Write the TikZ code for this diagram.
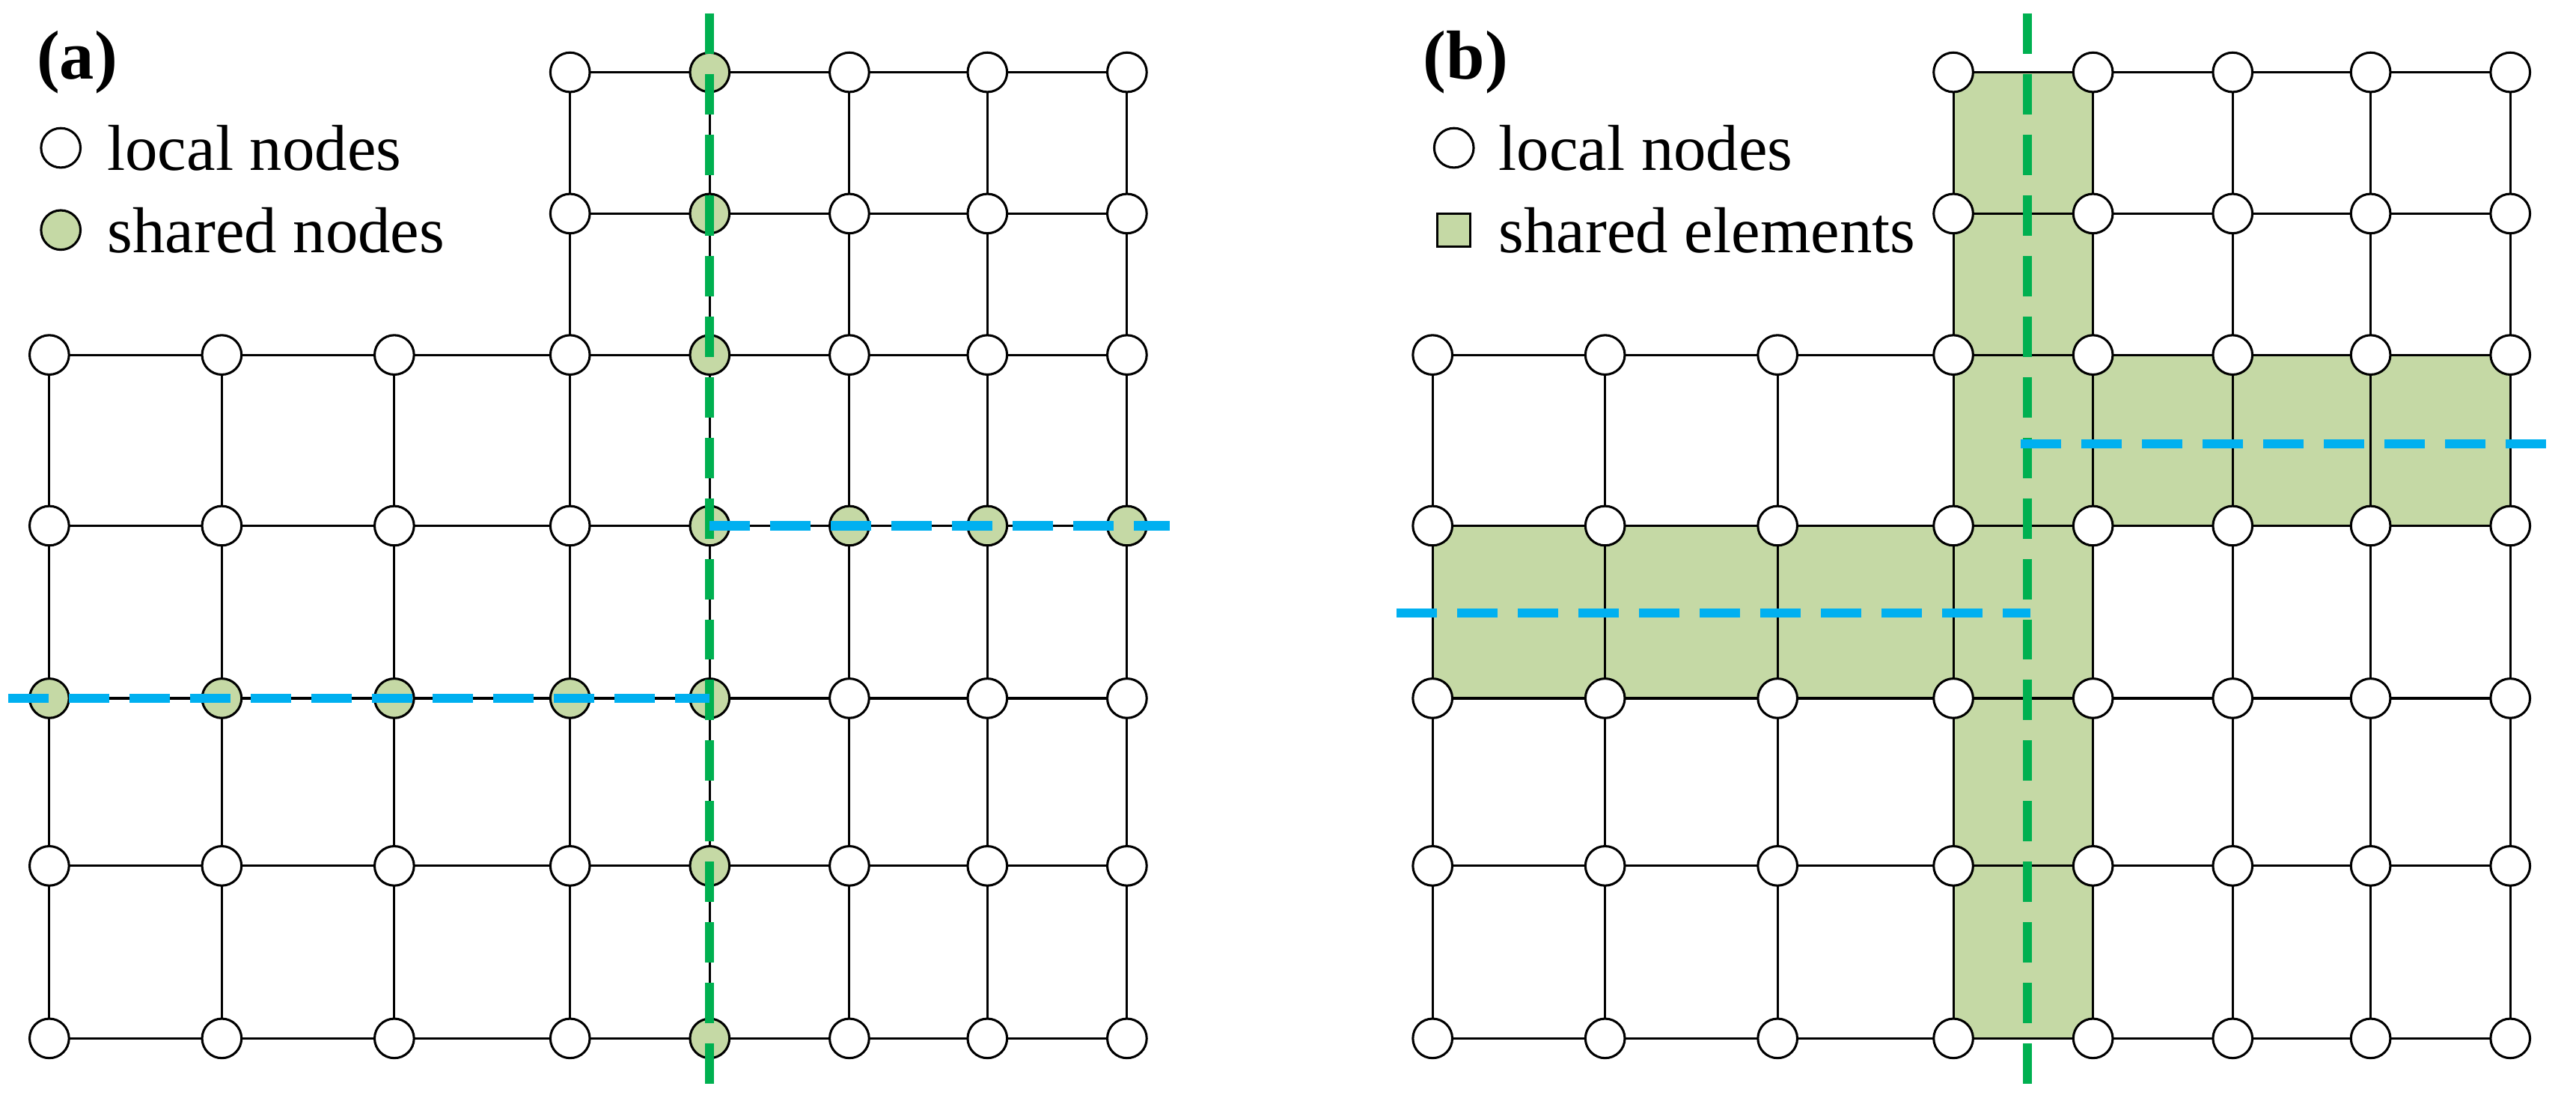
\documentclass[tikz,border=0pt]{standalone}
\usepackage{fontspec}
\setmainfont{Liberation Serif}
\definecolor{shfill}{RGB}{197,217,165}
\definecolor{gdash}{RGB}{0,176,80}
\definecolor{bdash}{RGB}{0,176,240}
\begin{document}
\begin{tikzpicture}[x=0.02cm,y=-0.02cm,
  grid/.style={draw=black,line width=0.8pt},
  nd/.style={circle,draw=black,line width=0.8pt,fill=white,minimum size=0.48cm,inner sep=0pt},
  shnd/.style={nd,fill=shfill},
  gd/.style={draw=gdash,line width=3.2pt,dash pattern=on 14pt off 7pt},
  bd/.style={draw=bdash,line width=3.2pt,dash pattern=on 14pt off 7pt},
  band/.style={fill=shfill,draw=black,line width=0.8pt},
  lbl/.style={anchor=west,font=\fontsize{22.5}{26}\selectfont,inner sep=0pt}]
\useasboundingbox (0,0) rectangle (1568,670);
% coordinates
\foreach \p/\dx in {a/0,b/842}{
 \foreach \x [count=\i] in {30,135,240,347,432,517,601,686}{
  \foreach \y [count=\j] in {44,130,216,320,425,527,632}{
   \coordinate (\p-\i-\j) at (\x+\dx,\y);
 }}}
% bands (b)
\fill[shfill] (b-4-1) rectangle (b-5-7);
\fill[shfill] (b-1-4) rectangle (b-4-5);
\fill[shfill] (b-5-3) rectangle (b-8-4);
% grid lines
\foreach \p in {a,b}{
 \foreach \i in {1,...,8}{
  \foreach \j in {1,...,7}{
   \pgfmathtruncatemacro\ex{(\i>=4 || \j>=3) ? 1 : 0}
   \ifnum\ex=1
    \ifnum\i<8 \pgfmathtruncatemacro\ii{\i+1}\draw[grid] (\p-\i-\j) -- (\p-\ii-\j);\fi
    \ifnum\j<7 \pgfmathtruncatemacro\jj{\j+1}\draw[grid] (\p-\i-\j) -- (\p-\i-\jj);\fi
   \fi
 }}}
% nodes
\foreach \p in {a,b}{
 \foreach \i in {1,...,8}{
  \foreach \j in {1,...,7}{
   \pgfmathtruncatemacro\ex{(\i>=4 || \j>=3) ? 1 : 0}
   \pgfmathtruncatemacro\sh{(\i==5 || (\j==4 && \i>=5) || (\j==5 && \i<=5)) ? 1 : 0}
   \ifnum\ex=1
    \ifnum\sh=1 \if\p a \node[shnd] (n\p-\i-\j) at (\p-\i-\j) {};\else \node[nd] (n\p-\i-\j) at (\p-\i-\j) {};\fi
    \else \node[nd] (n\p-\i-\j) at (\p-\i-\j) {};\fi
   \fi
 }}}
% dashed lines (a)
\coordinate (ga1) at (432,8); \coordinate (ga2) at (432,662);
\draw[gd] (ga1) -- (ga2);
\coordinate (ba1) at (432,320); \coordinate (ba2) at (712,320);
\draw[bd] (ba1) -- (ba2);
\coordinate (ba3) at (5,425); \coordinate (ba4) at (432,425);
\draw[bd] (ba3) -- (ba4);
% dashed lines (b)
\coordinate (gb1) at (1234,8); \coordinate (gb2) at (1234,662);
\draw[gd] (gb1) -- (gb2);
\coordinate (bb1) at (850,373); \coordinate (bb2) at (1236,373);
\draw[bd] (bb1) -- (bb2);
\coordinate (bb3) at (1230,270); \coordinate (bb4) at (1562,270);
\draw[bd] (bb3) -- (bb4);
% legends
\node[lbl,font=\fontsize{24}{28}\selectfont\bfseries] (ta) at (22,38) {(a)};
\node[nd] (la1) at (37,90) {}; \node[lbl] (lt1) at (65,90) {local nodes};
\node[shnd] (la2) at (37,140) {}; \node[lbl] (lt2) at (65,140) {shared nodes};
\node[lbl,font=\fontsize{24}{28}\selectfont\bfseries] (tb) at (866,38) {(b)};
\node[nd] (lb1) at (885,90) {}; \node[lbl] (lt3) at (912,90) {local nodes};
\node[band,minimum size=0.4cm,inner sep=0pt] (lb2) at (885,140) {}; \node[lbl] (lt4) at (912,140) {shared elements};
\end{tikzpicture}
\end{document}
